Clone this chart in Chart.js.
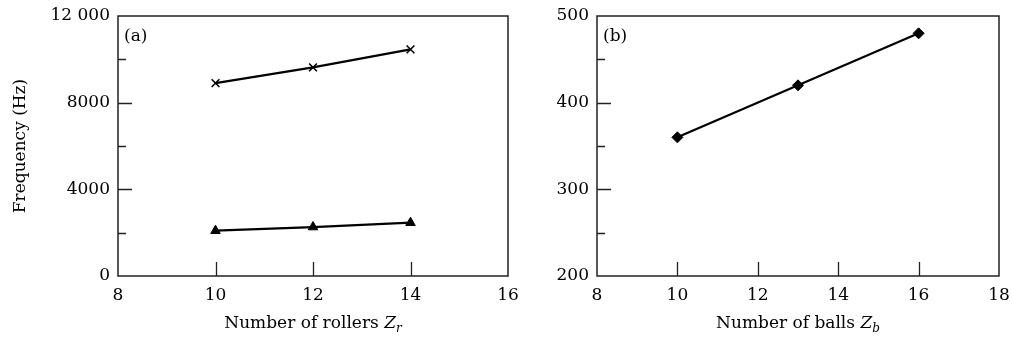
<!DOCTYPE html>
<html>
<head>
<meta charset="utf-8">
<script src="https://cdn.jsdelivr.net/npm/chart.js@4"></script>
<style>
  body { margin: 0; background: #fff; }
  #wrap { position: relative; width: 1013px; height: 339px; }
  #wrap canvas { position: absolute; top: 0; }
</style>
</head>
<body>
<div id="wrap">
  <canvas id="left" width="540" height="339" style="left:0"></canvas>
  <canvas id="right" width="473" height="339" style="left:540px"></canvas>
</div>
<script>
// Panel (a): frequency vs number of rollers
const rollers = [10, 12, 14];
const rollerCross = [8900, 9630, 10460];
const rollerTriangle = [2090, 2260, 2460];
// Panel (b): frequency vs number of balls
const balls = [10, 13, 16];
const ballFreq = [360, 420, 480];

const SERIF = "'DejaVu Serif', 'Liberation Serif', serif";
const INK = '#000';

function pts(xs, ys) { return xs.map((x, i) => ({ x: x, y: ys[i] })); }

// Box, inward ticks, panel tag and the x title with italic subscript
const framePlugin = {
    id: 'frame',
    afterDraw(chart, args, opts) {
        const ctx = chart.ctx, a = chart.chartArea;
        const xs = chart.scales.x, ys = chart.scales.y;
        ctx.save();
        ctx.strokeStyle = '#222';
        ctx.lineWidth = 1.5;
        ctx.strokeRect(a.left, a.top, a.right - a.left, a.bottom - a.top);
        ctx.lineWidth = 1.3;
        ctx.beginPath();
        xs.ticks.forEach(t => {
            if (t.value <= xs.min || t.value >= xs.max) return;
            const px = Math.round(xs.getPixelForValue(t.value)) + 0.5;
            ctx.moveTo(px, a.bottom); ctx.lineTo(px, a.bottom - 14);
        });
        ys.ticks.forEach(t => {
            if (t.value <= ys.min || t.value >= ys.max) return;
            const py = Math.round(ys.getPixelForValue(t.value)) + 0.5;
            const len = t.label ? 14 : 8;
            ctx.moveTo(a.left, py); ctx.lineTo(a.left + len, py);
        });
        ctx.stroke();

        ctx.fillStyle = INK;
        ctx.textBaseline = 'alphabetic';
        ctx.textAlign = 'left';
        ctx.font = '17px ' + SERIF;
        ctx.fillText(opts.tag, a.left + 6, 41);

        // x axis title: plain words + italic Z + italic subscript
        const f1 = '17px ' + SERIF, f2 = 'italic 17px ' + SERIF, f3 = 'italic 12px ' + SERIF;
        ctx.font = f1; const w1 = ctx.measureText(opts.words).width;
        ctx.font = f2; const w2 = ctx.measureText('Z').width;
        ctx.font = f3; const w3 = ctx.measureText(opts.sub).width;
        let x = (a.left + a.right) / 2 - (w1 + w2 + w3) / 2;
        const base = 328;
        ctx.font = f1; ctx.fillText(opts.words, x, base); x += w1;
        ctx.font = f2; ctx.fillText('Z', x, base); x += w2;
        ctx.font = f3; ctx.fillText(opts.sub, x, base + 4);
        ctx.restore();
    }
};

function makeChart(id, cfg) {
    return new Chart(document.getElementById(id), {
        type: 'scatter',
        data: { datasets: cfg.datasets },
        plugins: [framePlugin],
        options: {
            responsive: false,
            animation: false,
            layout: { padding: { top: 16, right: cfg.padRight, bottom: 0, left: 0 } },
            plugins: {
                legend: { display: false },
                tooltip: { enabled: false },
                frame: { tag: cfg.tag, words: cfg.words, sub: cfg.sub }
            },
            scales: {
                x: {
                    type: 'linear', min: cfg.xMin, max: cfg.xMax,
                    grid: { display: false, drawTicks: false },
                    border: { display: false },
                    ticks: { stepSize: 2, padding: 9, color: INK, font: { family: SERIF, size: 17 } },
                    afterFit(s) { s.height = 63; s.paddingLeft = 0; s.paddingRight = 0; }
                },
                y: {
                    min: cfg.yMin, max: cfg.yMax,
                    grid: { display: false, drawTicks: false },
                    border: { display: false },
                    ticks: {
                        stepSize: cfg.yStep / 2, padding: 8, color: INK,
                        font: { family: SERIF, size: 17 },
                        callback: v => (v % cfg.yStep === 0 ? (v >= 10000 ? String(v).replace(/(\d)(\d{3})$/, '$1 $2') : String(v)) : '')
                    },
                    title: cfg.yTitle ? {
                        display: true, text: cfg.yTitle, color: INK,
                        font: { family: SERIF, size: 17 }, padding: { top: 10, bottom: 0 }
                    } : { display: false },
                    afterFit(s) { s.width = cfg.yWidth; s.paddingTop = 0; s.paddingBottom = 0; }
                }
            }
        }
    });
}

makeChart('left', {
    tag: '(a)', words: 'Number of rollers ', sub: 'r',
    xMin: 8, xMax: 16, yMin: 0, yMax: 12000, yStep: 4000,
    yTitle: 'Frequency (Hz)', yWidth: 118, padRight: 32,
    datasets: [
        {
            data: pts(rollers, rollerCross), showLine: true,
            borderColor: INK, borderWidth: 2.2,
            pointStyle: 'crossRot', pointRadius: 5.5, pointBorderWidth: 1.6,
            pointBorderColor: INK, pointBackgroundColor: INK
        },
        {
            data: pts(rollers, rollerTriangle), showLine: true,
            borderColor: INK, borderWidth: 2.2,
            pointStyle: 'triangle', pointRadius: 5.5, pointBorderWidth: 1,
            pointBorderColor: INK, pointBackgroundColor: INK
        }
    ]
});

makeChart('right', {
    tag: '(b)', words: 'Number of balls ', sub: 'b',
    xMin: 8, xMax: 18, yMin: 200, yMax: 500, yStep: 100,
    yTitle: '', yWidth: 57, padRight: 14,
    datasets: [
        {
            data: pts(balls, ballFreq), showLine: true,
            borderColor: INK, borderWidth: 2.2,
            pointStyle: 'rectRot', pointRadius: 5.5, pointBorderWidth: 1,
            pointBorderColor: INK, pointBackgroundColor: INK
        }
    ]
});
</script>
</body>
</html>
